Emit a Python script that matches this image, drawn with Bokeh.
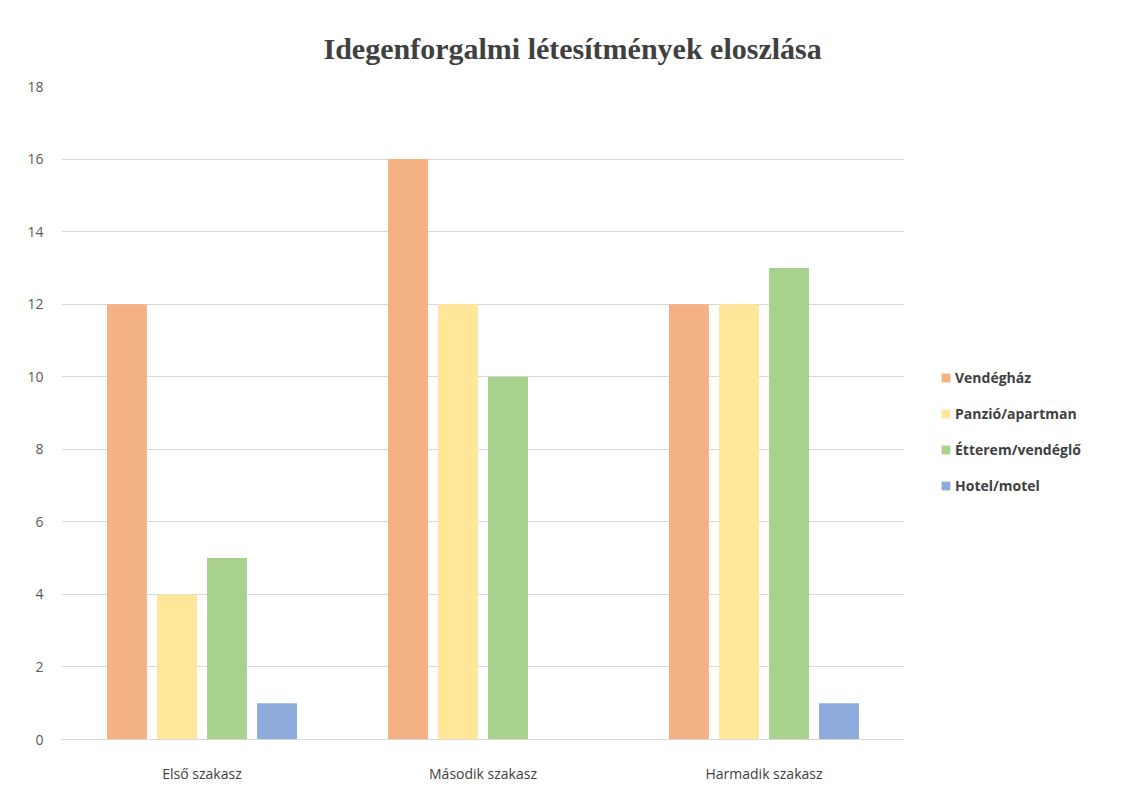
from bokeh.plotting import figure
from bokeh.models import FactorRange, ColumnDataSource, Legend, LegendItem, SingleIntervalTicker
from bokeh.transform import dodge
from bokeh.embed import file_html
from bokeh.resources import INLINE

categories = ["Első szakasz", "Második szakasz", "Harmadik szakasz"]
series_names = ["Vendégház", "Panzió/apartman", "Étterem/vendéglő", "Hotel/motel"]
vendeghaz = [12, 16, 12]
panzio = [4, 12, 12]
etterem = [5, 10, 13]
hotel = [1, 0, 1]
colors = ["#F4B183", "#FFE699", "#A9D18E", "#8FAADC"]

source = ColumnDataSource(dict(cat=categories, v0=vendeghaz, v1=panzio, v2=etterem, v3=hotel))

p = figure(x_range=FactorRange(*categories), y_range=(0, 18),
           frame_width=843, frame_height=653,
           min_border_left=61, min_border_right=222, min_border_top=86, min_border_bottom=40,
           output_backend="svg", toolbar_location=None)

offsets = [-0.267, -0.089, 0.089, 0.267]
renderers = []
for i, key in enumerate(["v0", "v1", "v2", "v3"]):
    r = p.vbar(x=dodge("cat", offsets[i], range=p.x_range), top=key, width=0.142,
               source=source, fill_color=colors[i], line_color=None)
    renderers.append(r)

legend = Legend(items=[LegendItem(label=series_names[i], renderers=[renderers[i]]) for i in range(4)],
                location=(36, 244), glyph_width=11, glyph_height=11, label_height=20,
                spacing=16, padding=0, margin=0, border_line_color=None,
                background_fill_alpha=0, label_text_font="Open Sans", label_text_font_style="bold",
                label_text_font_size="14px", label_text_color="#404040",
                label_standoff=4)
p.add_layout(legend, "right")

p.title.text = "Idegenforgalmi létesítmények eloszlása"
p.title.align = "left"
p.title.offset = 262
p.title.standoff = 44
p.title.text_font = "Liberation Serif"
p.title.text_font_style = "bold"
p.title.text_font_size = "30px"
p.title.text_color = "#404040"

p.yaxis.ticker = SingleIntervalTicker(interval=2)
p.yaxis.axis_line_color = None
p.yaxis.major_tick_line_color = None
p.yaxis.minor_tick_line_color = None
p.yaxis.major_label_standoff = 12
p.yaxis.major_label_text_font = "Open Sans"
p.yaxis.major_label_text_font_size = "14px"
p.yaxis.major_label_text_color = "#595959"

p.xaxis.axis_line_color = "#d9d9d9"
p.xaxis.major_tick_line_color = None
p.xaxis.minor_tick_line_color = None
p.xaxis.major_label_standoff = 18
p.xaxis.major_label_text_font = "Open Sans"
p.xaxis.major_label_text_font_size = "14px"
p.xaxis.major_label_text_color = "#404040"

p.xgrid.grid_line_color = None
p.ygrid.grid_line_color = "#d9d9d9"
p.outline_line_color = None
p.x_range.range_padding = 0
p.x_range.group_padding = 0

open("out.html", "w").write(file_html(p, INLINE))
